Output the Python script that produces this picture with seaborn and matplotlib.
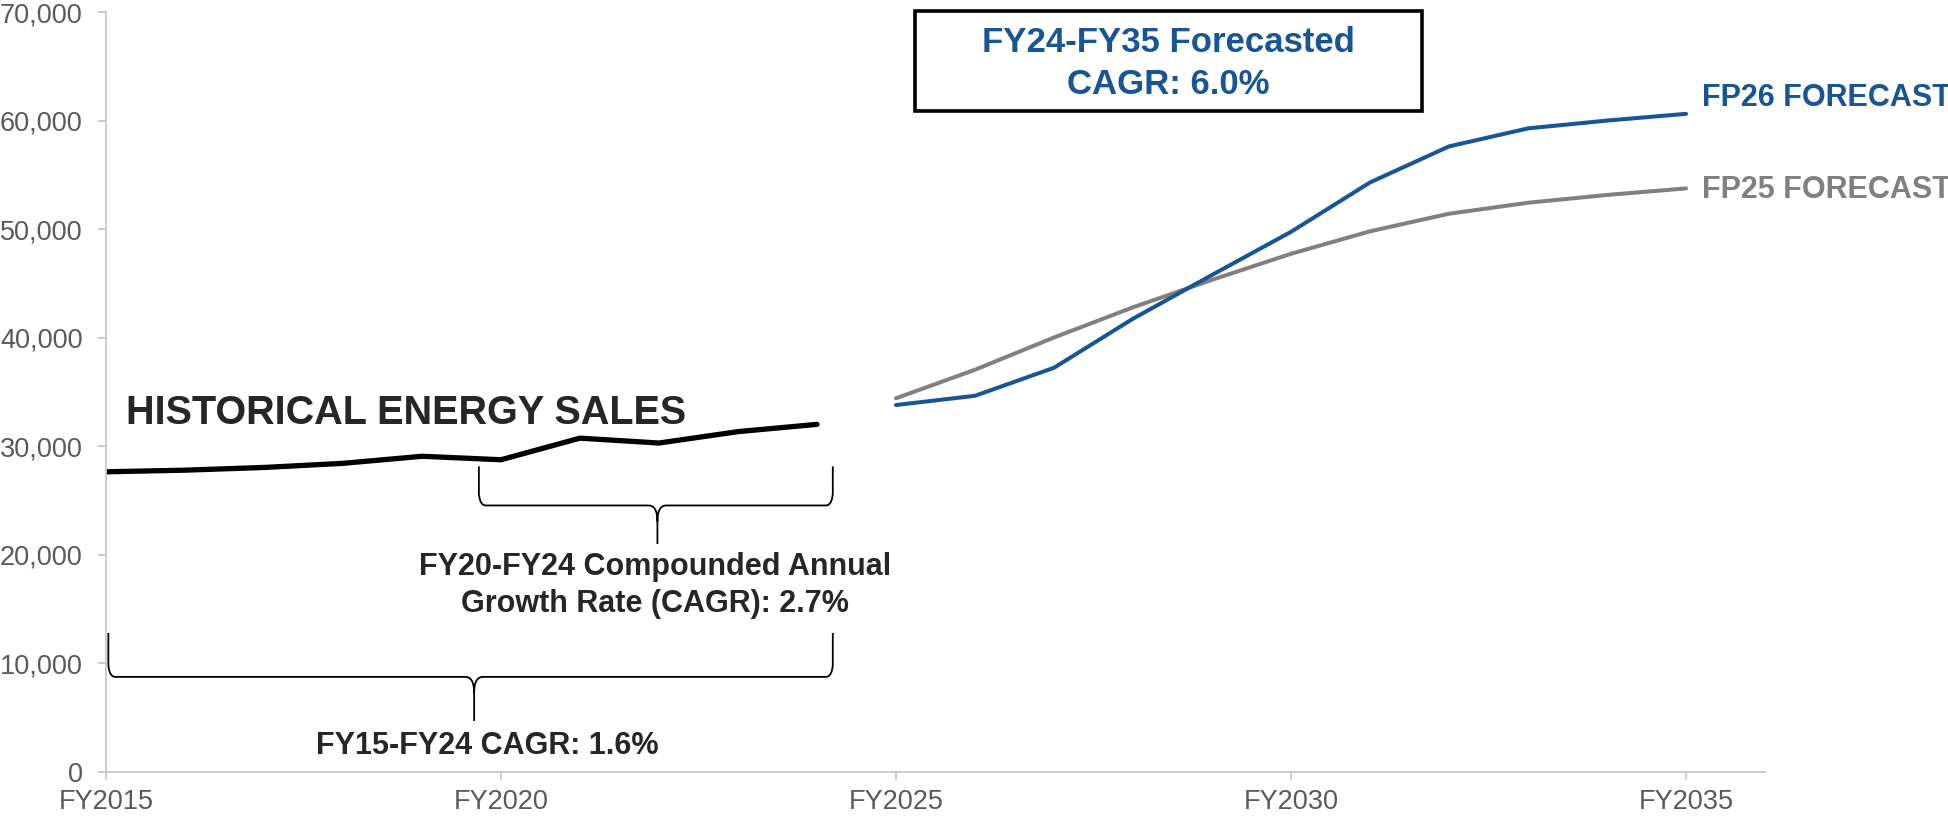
import matplotlib
matplotlib.use('Agg')
import matplotlib.pyplot as plt
import matplotlib.patches as patches
import numpy as np
import pandas as pd
import seaborn as sns

sns.set_theme(style='white')
plt.rcParams['font.family'] = ['Liberation Sans', 'DejaVu Sans']

# Werte
hist_years = [2015, 2016, 2017, 2018, 2019, 2020, 2021, 2022, 2023, 2024]
hist_sales = [27650, 27800, 28050, 28430, 29080, 28760, 30750, 30300, 31350, 32020]

fc_years = [2025, 2026, 2027, 2028, 2029, 2030, 2031, 2032, 2033, 2034, 2035]
fp26_sales = [33800, 34650, 37230, 41750, 45780, 49750, 54300, 57620, 59280, 60000, 60620]
fp25_sales = [34420, 37050, 40020, 42800, 45330, 47730, 49800, 51420, 52430, 53150, 53750]

x_ticks = [2015, 2020, 2025, 2030, 2035]
x_tick_labels = ['FY2015', 'FY2020', 'FY2025', 'FY2030', 'FY2035']
y_ticks = [0, 10000, 20000, 30000, 40000, 50000, 60000, 70000]

BLUE = '#175594'
GREY = '#808080'
DARK = '#262626'
TICKGREY = '#595959'

hist = pd.DataFrame({'year': hist_years, 'sales': hist_sales})
fc = pd.DataFrame({'year': fc_years, 'FP26': fp26_sales, 'FP25': fp25_sales})

fig = plt.figure(figsize=(19.49, 8.17), dpi=100)
ax = fig.add_axes([106 / 1949, 1 - 772 / 817, (1765 - 106) / 1949, (772 - 12) / 817])

sns.lineplot(data=hist, x='year', y='sales', color='black', lw=3.8, ax=ax)
sns.lineplot(data=fc, x='year', y='FP25', color=GREY, lw=2.9, ax=ax)
sns.lineplot(data=fc, x='year', y='FP26', color=BLUE, lw=2.9, ax=ax)

ax.set_xlim(2015, 2036)
ax.set_ylim(0, 70000)
ax.set_xticks(x_ticks)
ax.set_xticklabels(x_tick_labels)
ax.set_yticks(y_ticks)
ax.set_yticklabels([f'{v:,}' for v in y_ticks])
ax.set_xlabel('')
ax.set_ylabel('')
sns.despine(ax=ax)
for s in ['left', 'bottom']:
    ax.spines[s].set_color('#C8C8C8')
    ax.spines[s].set_linewidth(1.3)
ax.tick_params(axis='both', colors='#C8C8C8', labelcolor=TICKGREY, labelsize=19.5,
               length=5.8, width=1.3, direction='out')
ax.tick_params(axis='y', pad=11)
ax.tick_params(axis='x', pad=6.5)
ax.tick_params(left=True, bottom=True)

# Pixel -> Daten
px_x = 1 / 78.95
px_y = 70000 / 760


def brace(x0, x1, xm, ytop, yh, ytip):
    rx, ry = 7 * px_x, 12 * px_y
    t = np.linspace(0, 1, 20)

    def quad(p0, p1, p2):
        return ((1 - t) ** 2 * p0[0] + 2 * (1 - t) * t * p1[0] + t ** 2 * p2[0],
                (1 - t) ** 2 * p0[1] + 2 * (1 - t) * t * p1[1] + t ** 2 * p2[1])

    xs, ys = [x0], [ytop]
    cx, cy = quad((x0, yh + ry), (x0 + 1 * px_x, yh), (x0 + rx, yh))
    xs += list(cx); ys += list(cy)
    sx, sy = quad((xm - 9 * px_x, yh), (xm, yh), (xm, yh - 16 * px_y))
    xs += list(sx); ys += list(sy)
    xs += [xm]; ys += [ytip]
    sx2, sy2 = quad((xm, yh - 16 * px_y), (xm, yh), (xm + 9 * px_x, yh))
    xs += [np.nan] + list(sx2); ys += [np.nan] + list(sy2)
    cx2, cy2 = quad((x1 - rx, yh), (x1 - 1 * px_x, yh), (x1, yh + ry))
    xs += list(cx2); ys += list(cy2)
    xs += [x1]; ys += [ytop]
    ax.plot(xs, ys, color='black', lw=1.3, clip_on=False, solid_capstyle='butt')


brace(2019.72, 2024.2, 2021.98, 28150, 24550, 21000)
brace(2015.03, 2024.2, 2019.66, 12800, 8760, 4700)

ax.text(2015.25, 32050, 'HISTORICAL ENERGY SALES', fontsize=28.5, fontweight='bold',
        color=DARK, va='baseline', ha='left')
ax.text(2021.95, 18150, 'FY20-FY24 Compounded Annual', fontsize=22, fontweight='bold',
        color=DARK, va='baseline', ha='center')
ax.text(2021.95, 14740, 'Growth Rate (CAGR): 2.7%', fontsize=22, fontweight='bold',
        color=DARK, va='baseline', ha='center')
ax.text(2019.83, 1660, 'FY15-FY24 CAGR: 1.6%', fontsize=22, fontweight='bold',
        color=DARK, va='baseline', ha='center')

ax.text(2035.2, 61340, 'FP26 FORECAST', fontsize=22, fontweight='bold',
        color=BLUE, va='baseline', ha='left', clip_on=False)
ax.text(2035.2, 52870, 'FP25 FORECAST', fontsize=22, fontweight='bold',
        color=GREY, va='baseline', ha='left', clip_on=False)

# Kasten oben
fig.patches.append(patches.Rectangle((915 / 1949, 1 - 111 / 817), 507 / 1949, 100 / 817,
                                     transform=fig.transFigure, fill=False,
                                     edgecolor='black', lw=2.6))
fig.text(1168 / 1949, 1 - 52 / 817, 'FY24-FY35 Forecasted', fontsize=25, fontweight='bold',
         color=BLUE, ha='center', va='baseline')
fig.text(1168 / 1949, 1 - 94 / 817, 'CAGR: 6.0%', fontsize=25, fontweight='bold',
         color=BLUE, ha='center', va='baseline')

fig.savefig('out.png', dpi=100)
